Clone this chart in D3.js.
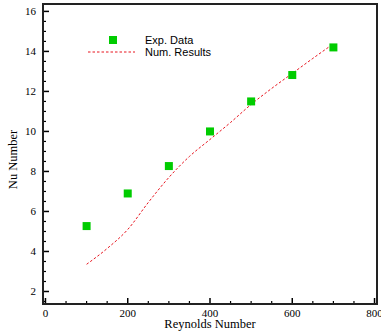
<!DOCTYPE html>
<html>
<head>
<meta charset="utf-8">
<script src="https://cdn.jsdelivr.net/npm/d3@7"></script>
<style>
  body { margin: 0; background: #fff; }
  svg { display: block; }
</style>
</head>
<body>
<div id="chart"></div>
<script>
// Experimental points
const expRe = [100, 200, 300, 400, 500, 600, 700];
const expNu = [5.27, 6.9, 8.27, 10.0, 11.5, 12.82, 14.2];

// Numerical curve
const numRe = [100, 150, 200, 250, 300, 350, 400, 450, 500, 550, 600, 650, 700];
const numNu = [3.36, 4.15, 5.1, 6.45, 7.7, 8.75, 9.6, 10.45, 11.35, 12.15, 12.9, 13.65, 14.38];

const xTicks = [0, 200, 400, 600, 800];
const yTicks = [2, 4, 6, 8, 10, 12, 14, 16];

const W = 381, H = 334;
const margin = {top: 4, right: 4, bottom: 30, left: 43};

const svg = d3.select("#chart").append("svg")
    .attr("width", W)
    .attr("height", H);

const x = d3.scaleLinear().domain([-6, 806]).range([margin.left, W - margin.right]);
const y = d3.scaleLinear().domain([1.375, 16.37]).range([H - margin.bottom, margin.top]);

const g = svg.append("g");

// minor ticks
const xMinor = d3.range(0, 801, 50).filter(v => v % 200 !== 0);
const yMinor = d3.range(1.5, 16.3, 0.5).filter(v => v % 2 !== 0);
const y0 = H - margin.bottom, x0 = margin.left;

g.selectAll(".xmaj").data(xTicks).join("line")
    .attr("x1", d => x(d)).attr("x2", d => x(d))
    .attr("y1", y0).attr("y2", y0 - 6)
    .attr("stroke", "#000").attr("stroke-width", 1.5);
g.selectAll(".xmin").data(xMinor).join("line")
    .attr("x1", d => x(d)).attr("x2", d => x(d))
    .attr("y1", y0).attr("y2", y0 - 3)
    .attr("stroke", "#000").attr("stroke-width", 1.2);
g.selectAll(".ymaj").data(yTicks).join("line")
    .attr("x1", x0).attr("x2", x0 + 6)
    .attr("y1", d => y(d)).attr("y2", d => y(d))
    .attr("stroke", "#000").attr("stroke-width", 1.5);
g.selectAll(".ymin").data(yMinor).join("line")
    .attr("x1", x0).attr("x2", x0 + 3)
    .attr("y1", d => y(d)).attr("y2", d => y(d))
    .attr("stroke", "#000").attr("stroke-width", 1.2);

// tick labels
g.selectAll(".xl").data(xTicks).join("text")
    .attr("x", d => x(d)).attr("y", y0 + 13)
    .attr("text-anchor", "middle")
    .attr("font-family", "Liberation Serif, serif").attr("font-size", 11)
    .text(d => d);
g.selectAll(".yl").data(yTicks).join("text")
    .attr("x", x0 - 7).attr("y", d => y(d) + 4)
    .attr("text-anchor", "end")
    .attr("font-family", "Liberation Serif, serif").attr("font-size", 11)
    .text(d => d);

// frame
svg.append("rect")
    .attr("x", margin.left).attr("y", margin.top)
    .attr("width", W - margin.left - margin.right)
    .attr("height", H - margin.top - margin.bottom)
    .attr("fill", "none").attr("stroke", "#222").attr("stroke-width", 2);

// axis titles
svg.append("text")
    .attr("x", x(400)).attr("y", 328)
    .attr("text-anchor", "middle")
    .attr("font-family", "Liberation Serif, serif").attr("font-size", 12.5)
    .text("Reynolds Number");
svg.append("text")
    .attr("transform", `translate(17,${y(8.6)}) rotate(-90)`)
    .attr("text-anchor", "middle")
    .attr("font-family", "Liberation Serif, serif").attr("font-size", 12.5)
    .text("Nu Number");

// numerical line
const line = d3.line().x(d => x(d[0])).y(d => y(d[1])).curve(d3.curveMonotoneX);
svg.append("path")
    .datum(numRe.map((r, i) => [r, numNu[i]]))
    .attr("d", line)
    .attr("fill", "none")
    .attr("stroke", "#e8141e")
    .attr("stroke-width", 1)
    .attr("stroke-dasharray", "2.5,2");

// experimental squares
const s = 8;
svg.selectAll(".exp").data(expRe.map((r, i) => [r, expNu[i]])).join("rect")
    .attr("x", d => x(d[0]) - s / 2).attr("y", d => y(d[1]) - s / 2)
    .attr("width", s).attr("height", s)
    .attr("fill", "#00cc00");

// legend
const lg = svg.append("g").attr("transform", "translate(0,0)");
lg.append("rect").attr("x", 109).attr("y", 36).attr("width", 8).attr("height", 8).attr("fill", "#00cc00");
lg.append("line").attr("x1", 88).attr("x2", 135).attr("y1", 52).attr("y2", 52)
    .attr("stroke", "#e8141e").attr("stroke-width", 1).attr("stroke-dasharray", "2.5,2");
lg.append("text").attr("x", 145).attr("y", 44)
    .attr("font-family", "Liberation Sans, Arial, sans-serif").attr("font-size", 11)
    .text("Exp. Data");
lg.append("text").attr("x", 145).attr("y", 56)
    .attr("font-family", "Liberation Sans, Arial, sans-serif").attr("font-size", 11)
    .text("Num. Results");
</script>
</body>
</html>
